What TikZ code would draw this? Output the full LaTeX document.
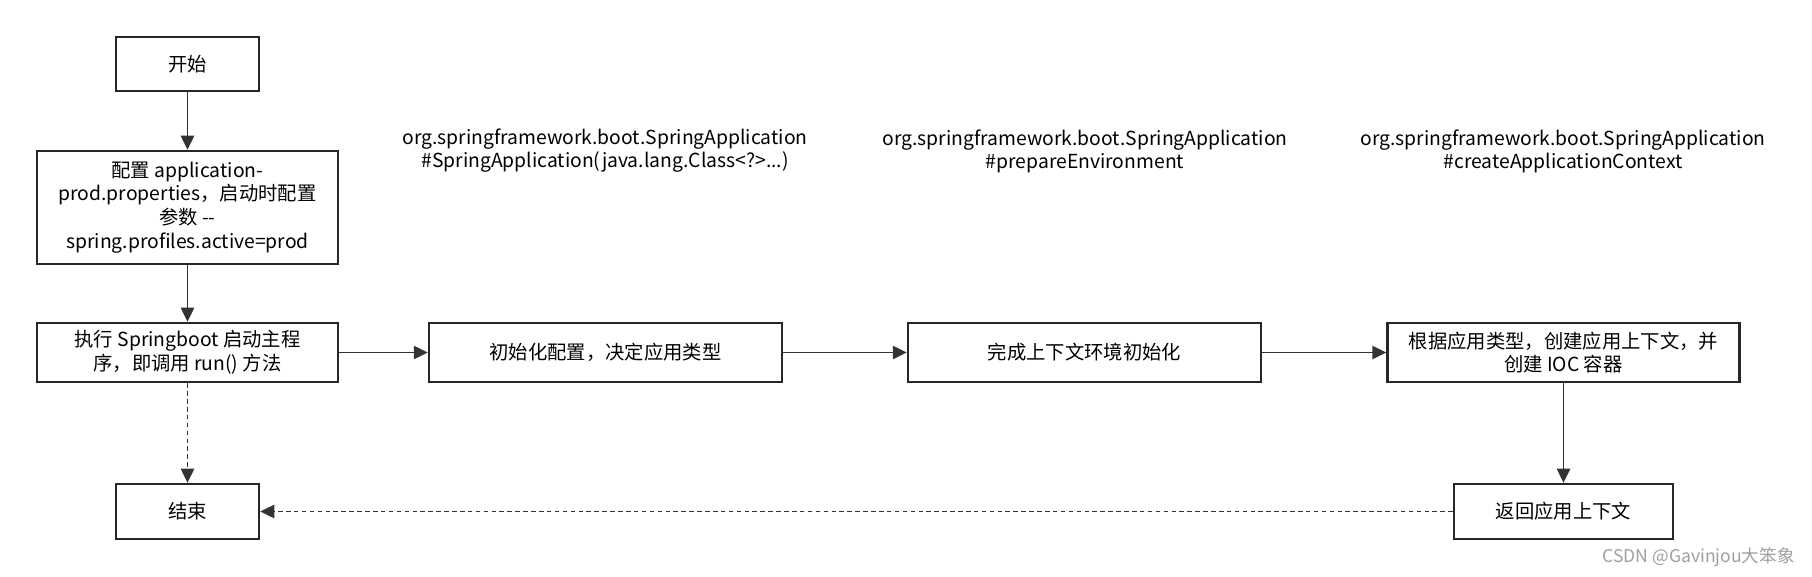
\documentclass[tikz,border=0pt]{standalone}
\usepackage{fontspec}
\setmainfont{Noto Sans CJK SC}
\usetikzlibrary{arrows.meta,positioning}

\definecolor{boxline}{HTML}{23282E}
\definecolor{arrowline}{HTML}{333333}
\definecolor{markgray}{HTML}{A0A0A0}

\tikzset{
	stepbox/.style={draw=boxline, line width=1.4pt, fill=white, align=center,
		inner sep=2pt, font=\fontsize{11}{13.5}\selectfont},
	flow/.style={color=arrowline, line width=1.1pt, -{Triangle[length=8pt,width=7.5pt]}},
	back/.style={flow, dash pattern=on 2.6pt off 1.9pt},
	note/.style={align=center, font=\fontsize{11}{13}\selectfont},
}

\begin{document}
\begin{tikzpicture}[x=0.02cm, y=-0.02cm]

	% ---- parameters

	\def\rowy{352.5}
	\def\endy{511.5}

	\useasboundingbox (0,0) rectangle (1812,576);

	% ---- boxes, left column

	\node[stepbox, minimum width=2.86cm, minimum height=1.08cm] (start) at (187.5,64) {开始};
	\node[stepbox, minimum width=6.02cm, minimum height=2.26cm] (config) at (187.5,207.5)
		{配置 application-\\prod.properties，启动时配置\\参数 -{}-\\spring.profiles.active=prod};
	\node[stepbox, minimum width=6.02cm, minimum height=1.18cm] (run) at (187.5,\rowy)
		{执行 Springboot 启动主程\\序，即调用 run() 方法};
	\node[stepbox, minimum width=2.86cm, minimum height=1.1cm] (finish) at (187.5,\endy) {结束};

	% ---- boxes, main row

	\node[stepbox, minimum width=7.06cm, minimum height=1.18cm] (init) at (605.5,\rowy)
		{初始化配置，决定应用类型};
	\node[stepbox, minimum width=7.06cm, minimum height=1.18cm] (env) at (1084.5,\rowy)
		{完成上下文环境初始化};
	\node[stepbox, minimum width=7.04cm, minimum height=1.18cm] (ctx) at (1563.5,\rowy)
		{根据应用类型，创建应用上下文，并\\创建 IOC 容器};
	\node[stepbox, minimum width=4.38cm, minimum height=1.1cm] (ret) at (1563.5,\endy)
		{返回应用上下文};

	% ---- method labels

	\node[note] (initsrc) at (605,151)
		{org.springframework.boot.SpringApplication\\\#SpringApplication(java.lang.Class<?>...)};
	\node[note] (envsrc) at (1085,151)
		{org.springframework.boot.SpringApplication\\\#prepareEnvironment};
	\node[note] (ctxsrc) at (1563,151)
		{org.springframework.boot.SpringApplication\\\#createApplicationContext};

	% ---- arrows

	\draw[flow] (start) -- (config);
	\draw[flow] (config) -- (run);
	\draw[back] (run) -- (finish);

	\draw[flow] (run) -- (init);
	\draw[flow] (init) -- (env);
	\draw[flow] (env) -- (ctx);
	\draw[flow] (ctx) -- (ret);
	\draw[back] (ret) -- (finish);

	% ---- watermark

	\node[anchor=east, text=markgray, font=\fontsize{10}{12}\selectfont, inner sep=0pt]
		(mark) at (1795,557) {CSDN @Gavinjou大笨象};

\end{tikzpicture}
\end{document}
